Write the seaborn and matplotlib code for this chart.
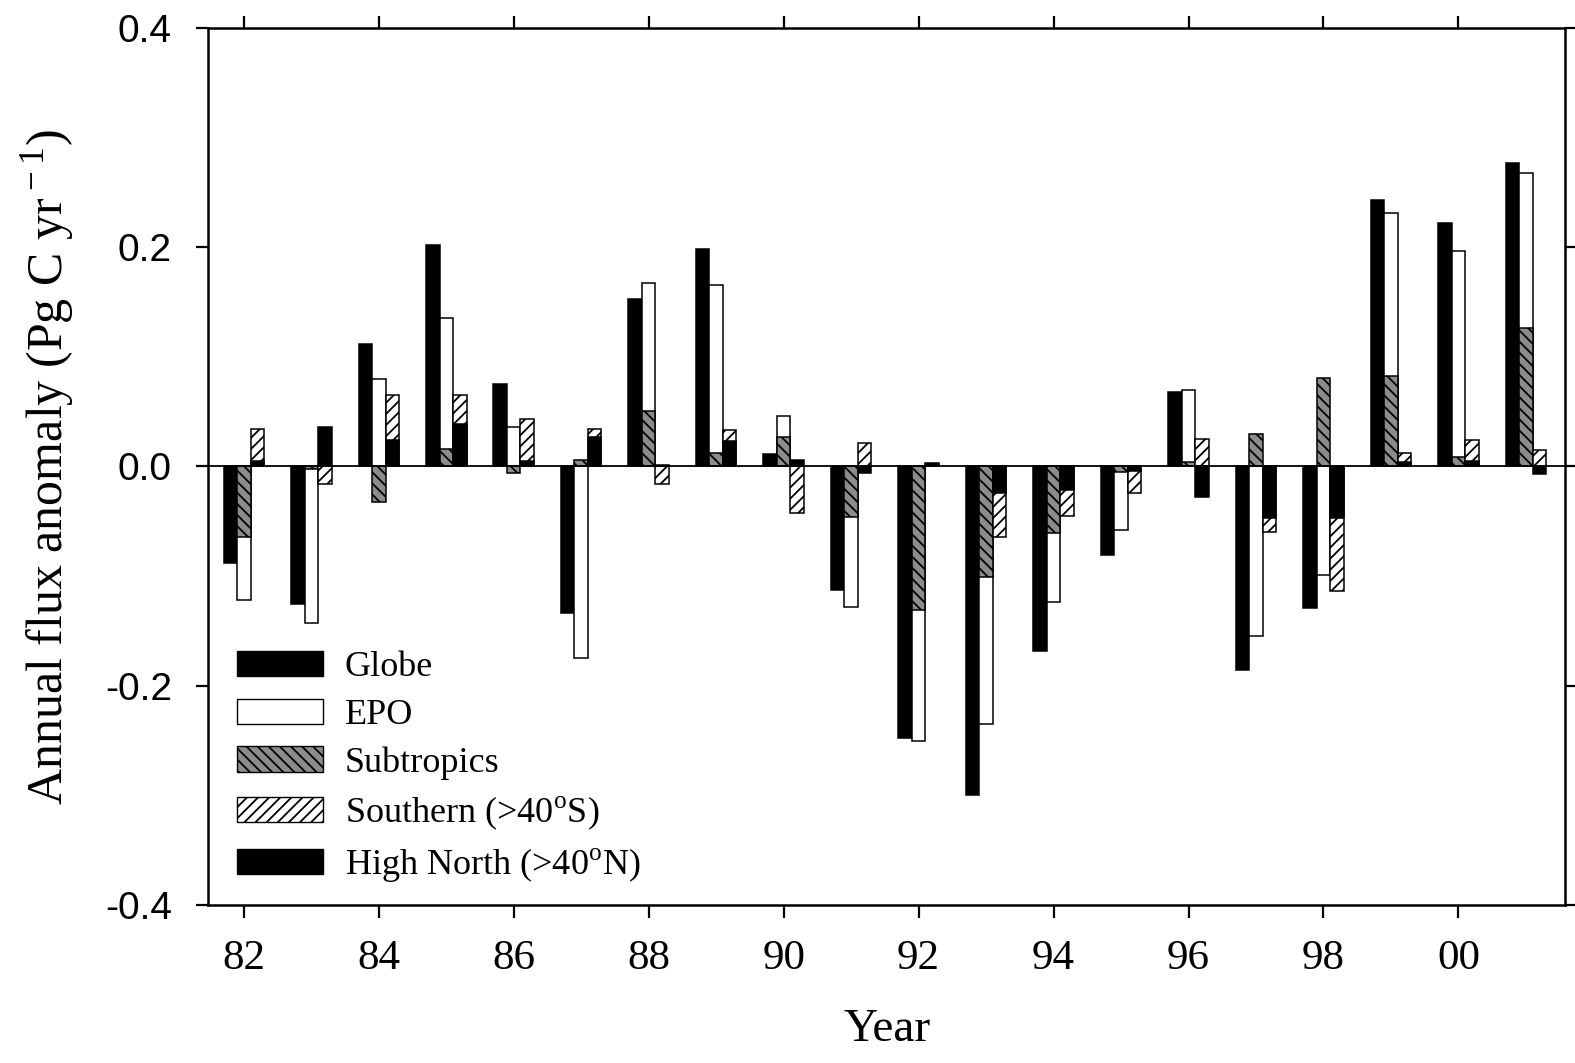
import numpy as np
import pandas as pd
import matplotlib
matplotlib.use("Agg")
import matplotlib.pyplot as plt
import seaborn as sns
from matplotlib.patches import Patch

years = list(range(1982, 2002))
year_labels = ["82", "84", "86", "88", "90", "92", "94", "96", "98", "00"]
globe = [-0.088, -0.125, 0.112, 0.202, 0.075, -0.134, 0.153, 0.198, 0.011, -0.113,
         -0.248, -0.300, -0.168, -0.081, 0.068, -0.186, -0.129, 0.243, 0.222, 0.277]
epo = [-0.122, -0.143, 0.080, 0.135, 0.036, -0.175, 0.167, 0.166, 0.046, -0.128,
       -0.250, -0.235, -0.124, -0.058, 0.070, -0.155, -0.099, 0.231, 0.197, 0.268]
subtropics = [-0.064, -0.002, -0.032, 0.016, -0.006, 0.006, 0.051, 0.012, 0.027, -0.046,
              -0.131, -0.101, -0.061, -0.005, 0.004, 0.030, 0.081, 0.083, 0.009, 0.126]
southern = [0.034, -0.016, 0.065, 0.065, 0.043, 0.034, -0.016, 0.033, -0.042, 0.021,
            0.001, -0.064, -0.045, -0.024, 0.025, -0.060, -0.114, 0.012, 0.024, 0.015]
high_north = [0.005, 0.036, 0.024, 0.039, 0.005, 0.027, 0.001, 0.023, 0.006, -0.006,
              0.003, -0.024, -0.021, -0.004, -0.028, -0.047, -0.047, 0.004, 0.005, -0.007]
series_names = ["Globe", "EPO", "Subtropics", "Southern (>40$^{\\rm o}$S)", "High North (>40$^{\\rm o}$N)"]

sns.set_theme(style="ticks")
plt.rcParams["font.family"] = ["Liberation Serif", "DejaVu Serif"]
plt.rcParams["mathtext.fontset"] = "custom"
plt.rcParams["mathtext.rm"] = "Liberation Serif"
plt.rcParams["hatch.linewidth"] = 1.3
plt.rcParams["text.color"] = "black"
plt.rcParams["axes.labelcolor"] = "black"
plt.rcParams["xtick.color"] = "black"
plt.rcParams["ytick.color"] = "black"
plt.rcParams["xtick.labelcolor"] = "black"
plt.rcParams["ytick.labelcolor"] = "black"

fig = plt.figure(figsize=(15.75, 10.63), dpi=100)
ax = fig.add_axes([0.1321, 0.1486, 0.9937 - 0.1321, 0.9737 - 0.1486])

yrs = np.array(years, dtype=float)
styles = [
    (globe, -0.2, "black", None),
    (epo, 0.0, "white", None),
    (subtropics, 0.0, "#8c8c8c", "\\\\\\"),
    (southern, 0.2, "white", "///"),
    (high_north, 0.2, "black", None),
]
for vals, off, fc, hatch in styles:
    df = pd.DataFrame({"x": yrs + off, "y": vals})
    sns.barplot(data=df, x="x", y="y", native_scale=True, width=0.2, orient="v",
                color=fc, saturation=1, edgecolor="black", linewidth=1.1,
                hatch=hatch, errorbar=None, ax=ax)

ax.axhline(0, color="black", linewidth=1.3, zorder=5)
ax.set_xlim(1981.47, 2001.58)
ax.set_ylim(-0.4, 0.4)
ax.set_xticks(list(range(1982, 2001, 2)))
ax.set_xticklabels(year_labels)
ax.set_yticks([-0.4, -0.2, 0.0, 0.2, 0.4])
ax.set_yticklabels(["-0.4", "-0.2", "0.0", "0.2", "0.4"], family="Liberation Sans")
ax.tick_params(axis="both", which="both", direction="out", length=9, width=1.6,
               top=True, right=True, color="black", labelcolor="black")
ax.tick_params(axis="x", labelsize=31, pad=16)
ax.tick_params(axis="y", labelsize=28, pad=17)
for s in ax.spines.values():
    s.set_linewidth(1.8)
    s.set_color("black")
    s.set_visible(True)

ax.set_xlabel("Year", fontsize=34, labelpad=22, color="black")
ax.set_ylabel("Annual flux anomaly (Pg C yr$^{\\rm -1}$)", fontsize=36, labelpad=20, color="black")

handles = [
    Patch(facecolor="black", edgecolor="black", linewidth=1.0),
    Patch(facecolor="white", edgecolor="black", linewidth=1.0),
    Patch(facecolor="#8c8c8c", edgecolor="black", linewidth=1.0, hatch="\\\\\\"),
    Patch(facecolor="white", edgecolor="black", linewidth=1.0, hatch="///"),
    Patch(facecolor="black", edgecolor="black", linewidth=1.0),
]
leg = ax.legend(handles, series_names, loc="lower left", bbox_to_anchor=(0.021, 0.024),
                frameon=False, fontsize=26, handlelength=2.4, handleheight=0.7,
                handletextpad=0.6, labelspacing=0.4, borderpad=0, borderaxespad=0)
for t in leg.get_texts():
    t.set_color("black")

fig.savefig("out.png", dpi=100, facecolor="white")
